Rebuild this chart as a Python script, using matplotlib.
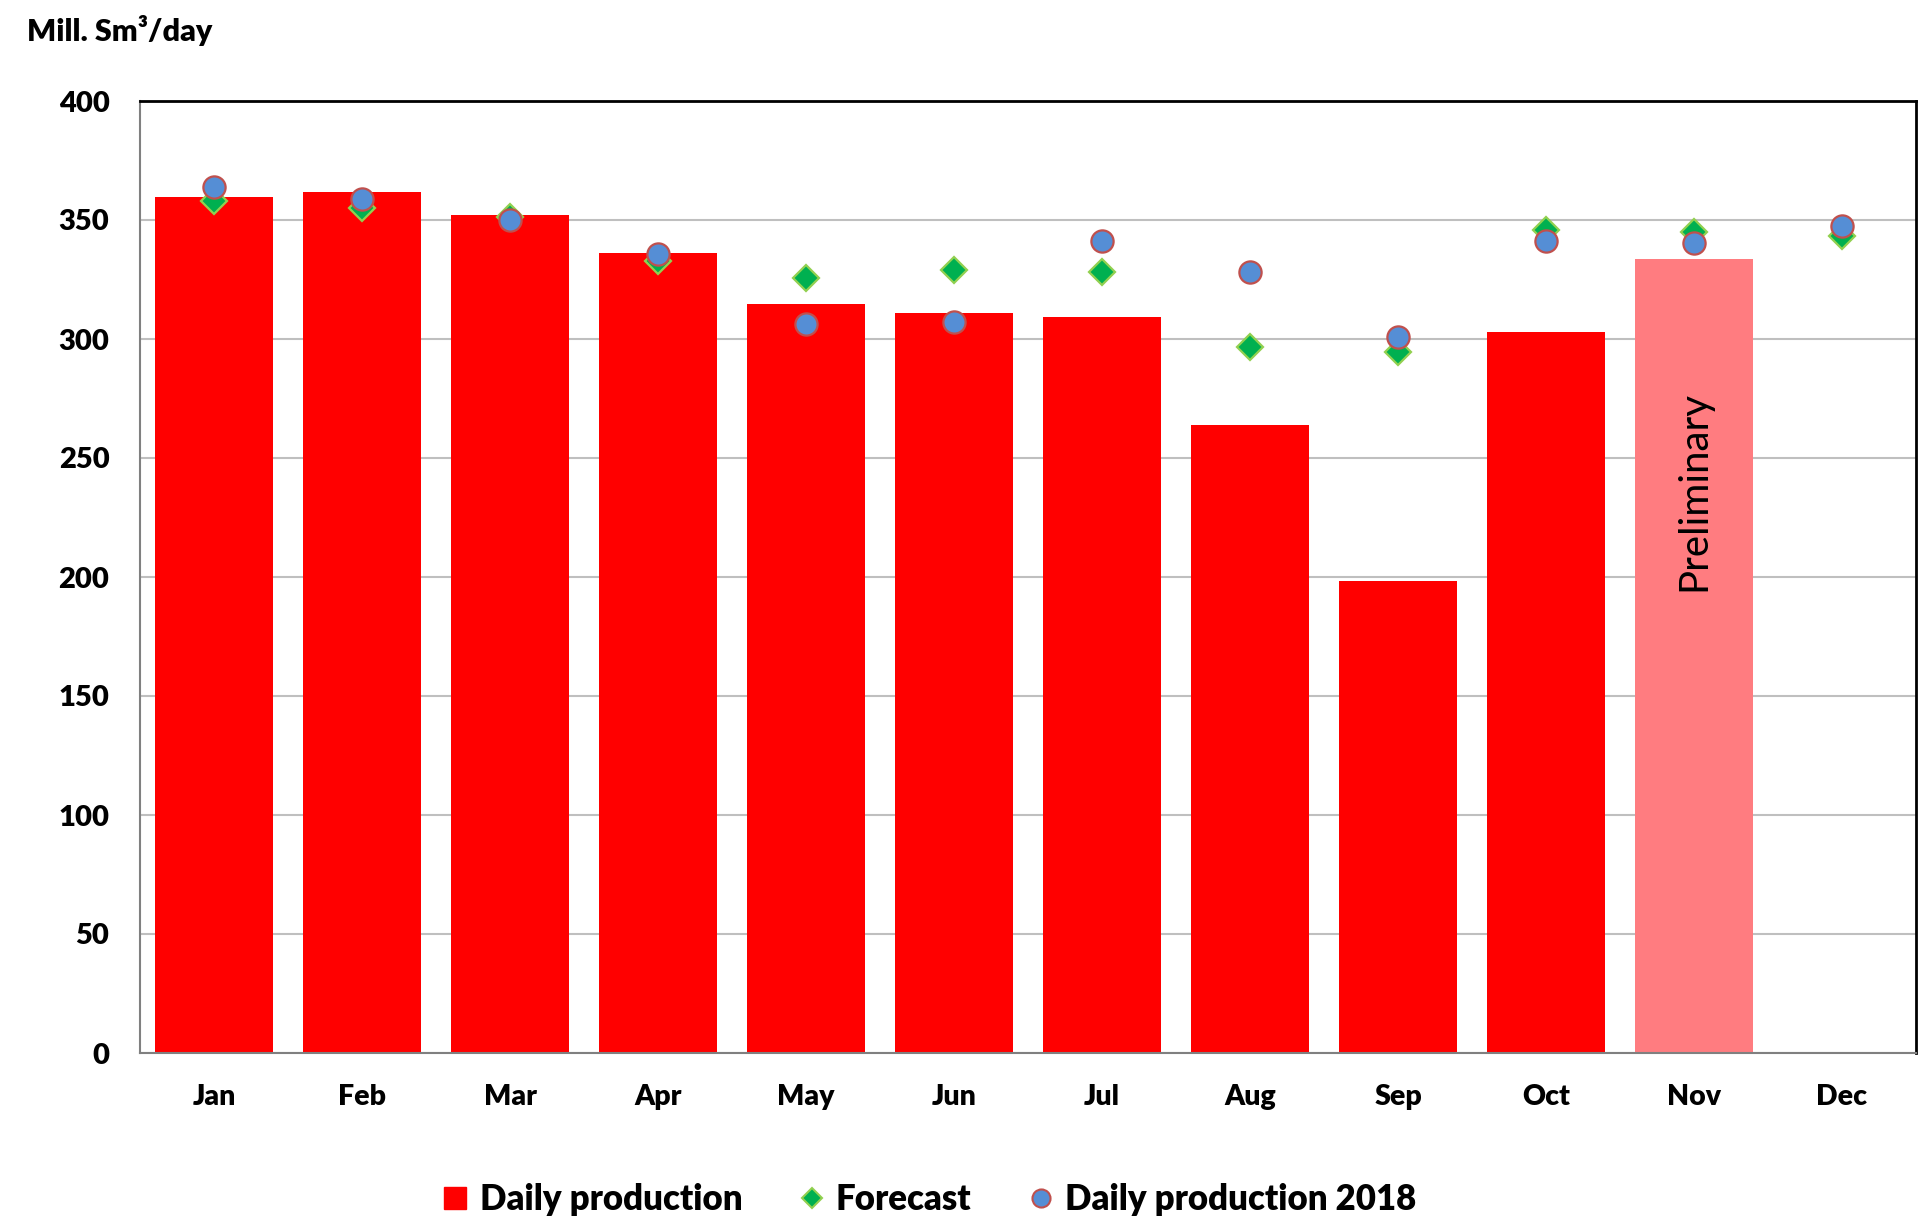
import matplotlib
matplotlib.use("Agg")
import matplotlib.pyplot as plt
from matplotlib.lines import Line2D

plt.rcParams['font.family'] = ['Lato', 'DejaVu Sans']

# ---------------------------------------------------------
# Data (Mill. Sm3/day)
# ---------------------------------------------------------
months = ["Jan", "Feb", "Mar", "Apr", "May", "Jun",
          "Jul", "Aug", "Sep", "Oct", "Nov", "Dec"]

# Daily production (Dec not yet reported)
production = [359.8, 361.6, 352.0, 336.3, 314.6, 310.9,
              309.2, 263.7, 198.5, 303.1, 333.7]

# last reported month is preliminary
preliminary_month = "Nov"

forecast = [357.9, 355.2, 351.3, 332.8, 325.5, 329.0,
            328.2, 296.5, 294.7, 345.8, 345.1, 343.3]

production_2018 = [363.8, 358.7, 349.9, 335.7, 306.2, 307.0,
                   341.3, 328.0, 301.0, 341.3, 340.5, 347.5]

y_ticks = [0, 50, 100, 150, 200, 250, 300, 350, 400]

# ---------------------------------------------------------
# Colors
# ---------------------------------------------------------
RED = "#FF0000"
LIGHT_RED = "#FF7C80"
GREEN = "#00B050"
GREEN_EDGE = "#92D050"
BLUE = "#558ED5"
BLUE_EDGE = "#C0504D"

fig = plt.figure(figsize=(19.2, 12.31), dpi=100)
ax = fig.add_axes([140 / 1920, 1 - 1053 / 1231, (1916 - 140) / 1920, (1053 - 101) / 1231])

x = list(range(len(months)))

bar_colors = [LIGHT_RED if months[i] == preliminary_month else RED
              for i in range(len(production))]
ax.bar(x[:len(production)], production, width=0.8, color=bar_colors, zorder=2)

ax.plot(x, forecast, linestyle="none", marker="D", markersize=13.5,
        markerfacecolor=GREEN, markeredgecolor=GREEN_EDGE, markeredgewidth=1.6, zorder=3)
ax.plot(x, production_2018, linestyle="none", marker="o", markersize=16,
        markerfacecolor=BLUE, markeredgecolor=BLUE_EDGE, markeredgewidth=1.6, zorder=4)

# "Preliminary" label inside the Nov bar
nov = months.index(preliminary_month)
ax.text(nov, 236, "Preliminary", rotation=90, ha="center", va="center",
        fontsize=29, color="black", zorder=5)

ax.set_xlim(-0.5, len(months) - 0.5)
ax.set_ylim(0, 400)
ax.set_yticks(y_ticks)
ax.set_xticks(x)
ax.set_xticklabels(months)

ax.yaxis.grid(True, color="#BFBFBF", linewidth=1.5, zorder=0)
ax.set_axisbelow(True)

ax.tick_params(axis="y", length=0, pad=22, labelsize=21)
ax.tick_params(axis="x", length=0, pad=22, labelsize=20.5)
for lab in ax.get_xticklabels() + ax.get_yticklabels():
    lab.set_fontweight("heavy")

ax.spines["left"].set_color("#808080")
ax.spines["bottom"].set_color("#808080")
ax.spines["left"].set_linewidth(1.5)
ax.spines["bottom"].set_linewidth(1.5)
ax.spines["top"].set_color("black")
ax.spines["right"].set_color("black")
ax.spines["top"].set_linewidth(2)
ax.spines["right"].set_linewidth(2)

fig.text(27 / 1920, 1 - 31 / 1231, "Mill. Sm³/day", fontsize=22,
         fontweight="heavy", ha="left", va="center")

handles = [
    Line2D([], [], linestyle="none", marker="s", markersize=16,
           markerfacecolor=RED, markeredgecolor=RED),
    Line2D([], [], linestyle="none", marker="D", markersize=10,
           markerfacecolor=GREEN, markeredgecolor=GREEN_EDGE, markeredgewidth=1.5),
    Line2D([], [], linestyle="none", marker="o", markersize=13,
           markerfacecolor=BLUE, markeredgecolor=BLUE_EDGE, markeredgewidth=1.5),
]
labels = ["Daily production", "Forecast", "Daily production 2018"]
fig.legend(handles, labels, loc="center", bbox_to_anchor=(929 / 1920, 1 - 1200 / 1231),
           ncol=3, frameon=False, handlelength=0.8, handletextpad=0.3,
           columnspacing=1.6, prop={"size": 25, "weight": "heavy"})

fig.savefig("out.png", dpi=100)
